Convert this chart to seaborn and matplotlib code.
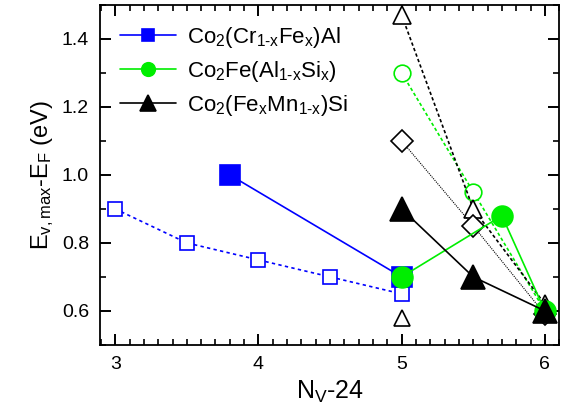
import numpy as np
import pandas as pd
import matplotlib
matplotlib.use("Agg")
import matplotlib.pyplot as plt
import seaborn as sns
from matplotlib.ticker import MultipleLocator

# Data
cr_fe_x = [3.8, 5.0]
cr_fe_y = [1.0, 0.7]
cr_fe_open_x = [3.0, 3.5, 4.0, 4.5, 5.0]
cr_fe_open_y = [0.9, 0.8, 0.75, 0.7, 0.65]

al_si_x = [5.0, 5.7, 6.0]
al_si_y = [0.7, 0.88, 0.6]
al_si_open_x = [5.0, 5.5, 6.0]
al_si_open_y = [1.3, 0.95, 0.6]

fe_mn_x = [5.0, 5.5, 6.0]
fe_mn_y = [0.9, 0.7, 0.6]
fe_mn_open_x = [5.0, 5.5, 6.0]
fe_mn_open_y = [1.47, 0.9, 0.62]
fe_mn_diam_x = [5.0, 5.5, 6.0]
fe_mn_diam_y = [1.1, 0.85, 0.59]
extra_tri_x = [5.0]
extra_tri_y = [0.58]

sns.set_style("ticks", {'xtick.direction': 'in', 'ytick.direction': 'in'})
plt.rcParams['font.family'] = ['Liberation Sans', 'DejaVu Sans']
plt.rcParams['mathtext.fontset'] = 'custom'
plt.rcParams['mathtext.rm'] = 'Liberation Sans'
plt.rcParams['mathtext.it'] = 'Liberation Sans'
plt.rcParams['axes.edgecolor'] = 'black'
plt.rcParams['text.color'] = 'black'
plt.rcParams['axes.labelcolor'] = 'black'

blue = '#0000ff'
green = '#00ee00'

fig = plt.figure(figsize=(5.66, 4.16), dpi=100)
ax = fig.add_axes([0.177, 0.171, 0.811, 0.817])

def draw(x, y, color, marker, ms, ls, filled, label=None, lw=1.2, mew=1.2):
    sns.lineplot(x=x, y=y, ax=ax, color=color, marker=marker, markersize=ms,
                 linestyle=ls, linewidth=lw, markeredgecolor=color,
                 markerfacecolor=color if filled else 'white', markeredgewidth=mew,
                 label=label, legend=False, sort=False, zorder=3 if filled else 2)

draw(cr_fe_open_x, cr_fe_open_y, blue, 's', 10, (0, (2, 2)), False)
draw(al_si_open_x, al_si_open_y, green, 'o', 12, (0, (2, 1.5)), False)
draw(fe_mn_open_x, fe_mn_open_y, 'black', '^', 13, (0, (2, 1.5)), False)
draw(fe_mn_diam_x, fe_mn_diam_y, 'black', 'D', 11, (0, (1, 1)), False, lw=0.8)
draw(extra_tri_x, extra_tri_y, 'black', '^', 12, '', False)
draw(cr_fe_x, cr_fe_y, blue, 's', 14, '-', True, r'Co$_2$(Cr$_{1\text{-}x}$Fe$_x$)Al')
draw(al_si_x, al_si_y, green, 'o', 15, '-', True, r'Co$_2$Fe(Al$_{1\text{-}x}$Si$_x$)')
draw(fe_mn_x, fe_mn_y, 'black', '^', 17, '-', True, r'Co$_2$(Fe$_x$Mn$_{1\text{-}x}$)Si')

ax.set_xlim(2.895, 6.1)
ax.set_ylim(0.5, 1.5)
ax.xaxis.set_major_locator(MultipleLocator(1))
ax.xaxis.set_minor_locator(MultipleLocator(0.1))
ax.yaxis.set_minor_locator(MultipleLocator(0.1))
ax.set_yticks([0.6, 0.8, 1.0, 1.2, 1.4])
ax.tick_params(which='both', direction='in', top=True, right=True, color='black',
               labelcolor='black', labelsize=14)
ax.tick_params(which='major', length=8, width=1.4, pad=8)
ax.tick_params(which='minor', length=4, width=1.2)
for s in ax.spines.values():
    s.set_linewidth(1.3)
    s.set_color('black')

ax.set_xlabel(r'N$_V$-24', fontsize=18)
ax.set_ylabel(r'E$_{v,max}$-E$_F$ (eV)', fontsize=17)

handles, labels = ax.get_legend_handles_labels()
ax.legend(handles[-3:], labels[-3:], loc='upper left',
          frameon=False, fontsize=16, handlelength=2.5, markerscale=0.65,
          borderaxespad=0.5, labelspacing=0.4, handletextpad=0.5,
          bbox_to_anchor=(0.0, 1.0))

fig.savefig('out.png', dpi=100)
